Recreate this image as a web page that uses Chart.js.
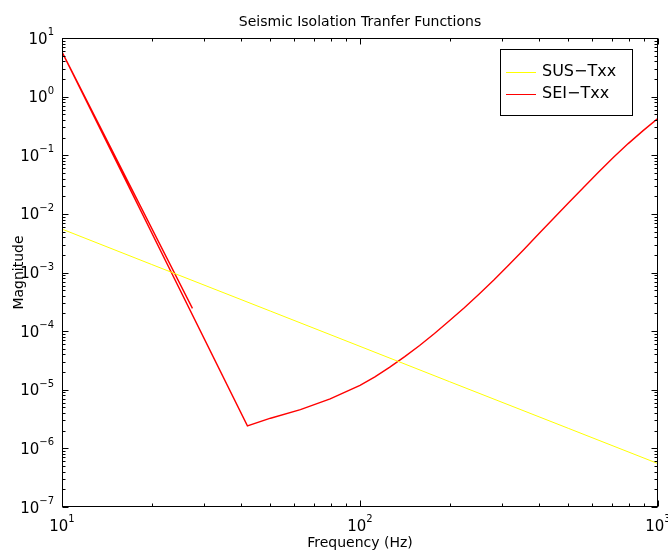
<!DOCTYPE html>
<html>
<head>
<meta charset="utf-8">
<script src="https://cdn.jsdelivr.net/npm/chart.js@4.4.1/dist/chart.umd.min.js"></script>
<style>
  body { margin: 0; background: #fff; }
  canvas { display: block; }
</style>
</head>
<body>
<canvas id="tf" width="668" height="552"></canvas>
<script>
// values
const titleText = 'Seismic Isolation Tranfer Functions';
const xTitle = 'Frequency (Hz)';
const yTitle = 'Magnitude';

const seriesNames = ['SUS\u2212Txx', 'SEI\u2212Txx'];
const seriesColors = ['rgb(255, 255, 0)', 'rgb(255, 0, 0)'];

const freqSUS = [10, 20, 50, 100, 200, 500, 1000];
const magSUS = [5.5e-3, 1.37e-3, 2.2e-4, 5.5e-5, 1.37e-5, 2.2e-6, 5.5e-7];

// the SEI trace doubles back once near 10 Hz, so keep the original point order
const freqSEI = [27.4, 10, 41.9, 50.1, 63.1, 79.4, 100, 112.2, 125.9, 141.3, 158.5, 177.8, 199.5,
  223.9, 251.2, 281.8, 316.2, 354.8, 398.1, 446.7, 501.2, 562.3, 631, 707.9, 794.3, 891.3, 1000];
const magSEI = [2.44e-4, 5.8, 2.42e-6, 3.27e-6, 4.57e-6, 6.97e-6, 1.19e-5, 1.66e-5, 2.43e-5, 3.67e-5, 5.69e-5, 9.12e-5, 1.50e-4,
  2.51e-4, 4.30e-4, 7.50e-4, 1.35e-3, 2.47e-3, 4.57e-3, 8.41e-3, 1.55e-2, 2.83e-2, 5.13e-2, 9.12e-2, 0.158, 0.263, 0.427];

const xTicks = [10, 100, 1000];
const yTicks = [1e-7, 1e-6, 1e-5, 1e-4, 1e-3, 1e-2, 1e-1, 1, 10];

const FONT = '"DejaVu Sans", "Liberation Sans", Arial, sans-serif';

function toPoints(xs, ys) {
  return xs.map((v, i) => ({ x: v, y: ys[i] }));
}

function expText(v) {
  return String(Math.round(Math.log10(v))).replace('-', '\u2212');
}

const matlabAxes = {
  id: 'matlabAxes',
  afterDraw(chart) {
    const { ctx, chartArea: a } = chart;
    const x = chart.scales.x, y = chart.scales.y;
    const L = a.left + 0.5, R = a.right - 0.5, T = a.top + 0.5, B = a.bottom - 0.5;

    ctx.save();
    ctx.strokeStyle = '#000';
    ctx.lineWidth = 1;
    ctx.strokeRect(L, T, R - L, B - T);

    // inside ticks, major and minor, on all four sides
    ctx.beginPath();
    for (let d = 1; d <= 3; d++) {
      for (let k = 1; k <= 9; k++) {
        const v = k * Math.pow(10, d);
        if (v > 1000) break;
        const px = Math.round(x.getPixelForValue(v)) + 0.5;
        const len = k === 1 ? 6 : 3;
        ctx.moveTo(px, B); ctx.lineTo(px, B - len);
        ctx.moveTo(px, T); ctx.lineTo(px, T + len);
      }
    }
    for (let d = -7; d <= 1; d++) {
      for (let k = 1; k <= 9; k++) {
        const v = k * Math.pow(10, d);
        if (v > 10) break;
        const py = Math.round(y.getPixelForValue(v)) + 0.5;
        const len = k === 1 ? 6 : 3;
        ctx.moveTo(L, py); ctx.lineTo(L + len, py);
        ctx.moveTo(R, py); ctx.lineTo(R - len, py);
      }
    }
    ctx.stroke();

    ctx.fillStyle = '#000';
    const baseFont = '15px ' + FONT;
    const supFont = '10px ' + FONT;

    // x tick labels: 10 with a raised exponent, centred on the tick
    xTicks.forEach((v) => {
      const px = x.getPixelForValue(v);
      const e = expText(v);
      ctx.font = baseFont;
      const wb = ctx.measureText('10').width;
      ctx.font = supFont;
      const we = ctx.measureText(e).width;
      const start = px - (wb + we) / 2;
      ctx.textAlign = 'left';
      ctx.textBaseline = 'alphabetic';
      ctx.font = baseFont;
      ctx.fillText('10', start, 531);
      ctx.font = supFont;
      ctx.fillText(e, start + wb, 522);
    });

    // y tick labels, right aligned left of the axis
    yTicks.forEach((v) => {
      const py = y.getPixelForValue(v);
      const e = expText(v);
      ctx.font = supFont;
      const we = ctx.measureText(e).width;
      ctx.textAlign = 'left';
      ctx.textBaseline = 'alphabetic';
      ctx.fillText(e, 54 - we, py - 3);
      ctx.font = baseFont;
      ctx.textAlign = 'right';
      ctx.fillText('10', 54 - we, py + 5.5);
    });

    // titles
    ctx.textAlign = 'center';
    ctx.textBaseline = 'alphabetic';
    ctx.font = '14px ' + FONT;
    ctx.fillText(titleText, (a.left + a.right) / 2, 26);
    ctx.fillText(xTitle, (a.left + a.right) / 2, 547);
    ctx.save();
    ctx.translate(23, (a.top + a.bottom) / 2);
    ctx.rotate(-Math.PI / 2);
    ctx.fillText(yTitle, 0, 0);
    ctx.restore();

    // legend box
    ctx.fillStyle = '#fff';
    ctx.fillRect(500.5, 49.5, 132, 66);
    ctx.strokeStyle = '#000';
    ctx.strokeRect(500.5, 49.5, 132, 66);
    chart.data.datasets.forEach((ds, i) => {
      const ly = 72 + i * 21.5;
      ctx.strokeStyle = ds.borderColor;
      ctx.lineWidth = 1;
      ctx.beginPath();
      ctx.moveTo(506, Math.round(ly) + 0.5);
      ctx.lineTo(536, Math.round(ly) + 0.5);
      ctx.stroke();
      ctx.fillStyle = '#000';
      ctx.font = '16px ' + FONT;
      ctx.textAlign = 'left';
      ctx.textBaseline = 'middle';
      ctx.fillText(ds.label, 542, ly);
    });
    ctx.restore();
  }
};

new Chart(document.getElementById('tf'), {
  type: 'line',
  data: {
    datasets: [
      {
        label: seriesNames[0],
        data: toPoints(freqSUS, magSUS),
        borderColor: seriesColors[0],
        borderWidth: 1,
        pointRadius: 0,
        tension: 0
      },
      {
        label: seriesNames[1],
        data: toPoints(freqSEI, magSEI),
        borderColor: seriesColors[1],
        borderWidth: 1.4,
        pointRadius: 0,
        tension: 0
      }
    ]
  },
  options: {
    responsive: false,
    animation: false,
    layout: { padding: { left: 62, top: 38, right: 10, bottom: 45 } },
    plugins: {
      legend: { display: false },
      title: { display: false },
      tooltip: { enabled: false }
    },
    scales: {
      x: { type: 'logarithmic', min: 10, max: 1000, display: false },
      y: { type: 'logarithmic', min: 1e-7, max: 10, display: false }
    }
  },
  plugins: [matlabAxes]
});
</script>
</body>
</html>
